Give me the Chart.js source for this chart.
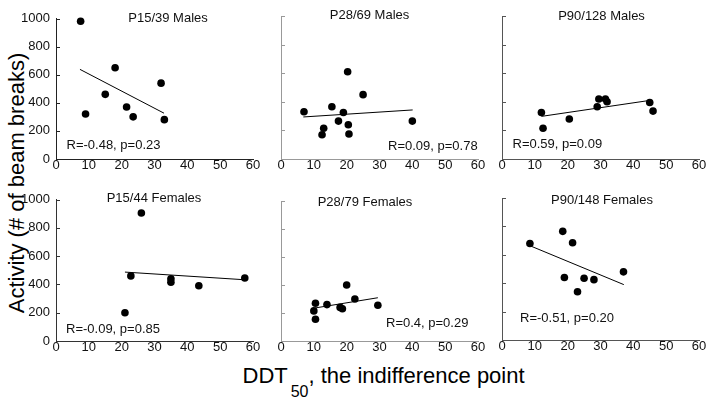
<!DOCTYPE html>
<html>
<head>
<meta charset="utf-8">
<script src="https://cdn.jsdelivr.net/npm/chart.js@4.4.1/dist/chart.umd.min.js"></script>
<style>
html,body{margin:0;padding:0;background:#fff;}
body{width:714px;height:401px;position:relative;overflow:hidden;font-family:'Liberation Sans',Arial,sans-serif;color:#000;}
canvas{position:absolute;}
#ytitle{position:absolute;left:17px;top:183px;font-size:22px;line-height:22px;white-space:nowrap;transform:translate(-50%,-50%) rotate(-90deg);}
#xtitle{position:absolute;left:242.5px;top:365.4px;font-size:22px;line-height:22px;white-space:nowrap;}
#xtitle .sub{font-size:16px;vertical-align:-14px;margin-left:3px;line-height:16px;}
</style>
</head>
<body>
<div id="ytitle">Activity (# of beam breaks)</div>
<div id="xtitle">DDT<span class="sub">50</span>, the indifference point</div>
<script>
// ---- tick values ----
const xTicks = [0, 10, 20, 30, 40, 50, 60];
const yTicks = [0, 200, 400, 600, 800, 1000];

// ---- panel labels ----
const panelTitles = ['P15/39 Males', 'P28/69 Males', 'P90/128 Males',
                     'P15/44 Females', 'P28/79 Females', 'P90/148 Females'];
const statLabels = ['R=-0.48, p=0.23', 'R=0.09, p=0.78', 'R=0.59, p=0.09',
                    'R=-0.09, p=0.85', 'R=0.4, p=0.29', 'R=-0.51, p=0.20'];

// ---- data (DDT50, activity) ----
const p15MalesX = [7.5, 9, 15, 18, 21.5, 23.5, 32, 33];
const p15MalesY = [980, 320, 460, 650, 370, 300, 540, 280];
const p15MalesFitX = [7.3, 32.9];
const p15MalesFitY = [638, 326];

const p28MalesX = [7, 12.5, 13, 15.5, 17.5, 19, 20.3, 20.5, 20.7, 25, 40];
const p28MalesY = [330, 170, 215, 365, 265, 325, 610, 240, 175, 450, 265];
const p28MalesFitX = [6.8, 40.1];
const p28MalesFitY = [294, 343];

const p90MalesX = [12, 12.5, 20.5, 29, 29.5, 31.5, 32, 45, 46];
const p90MalesY = [325, 215, 280, 365, 420, 420, 400, 395, 335];
const p90MalesFitX = [12, 45.1];
const p90MalesFitY = [298, 410];

const p15FemalesX = [21, 22.8, 26, 35, 35, 43.5, 57.5];
const p15FemalesY = [200, 460, 905, 440, 415, 390, 445];
const p15FemalesFitX = [21, 58];
const p15FemalesFitY = [487, 432];

const p28FemalesX = [10, 10.5, 10.5, 14, 18, 18.7, 20, 22.5, 29.5];
const p28FemalesY = [215, 270, 155, 260, 240, 230, 400, 300, 255];
const p28FemalesFitX = [10.4, 29.5];
const p28FemalesFitY = [236, 309];

const p90FemalesX = [8.5, 18.5, 19, 21.5, 23, 25, 28, 37];
const p90FemalesY = [680, 765, 440, 685, 340, 435, 425, 480];
const p90FemalesFitX = [8.4, 37.1];
const p90FemalesFitY = [665, 390];

const seriesX = [p15MalesX, p28MalesX, p90MalesX, p15FemalesX, p28FemalesX, p90FemalesX];
const seriesY = [p15MalesY, p28MalesY, p90MalesY, p15FemalesY, p28FemalesY, p90FemalesY];
const fitX = [p15MalesFitX, p28MalesFitX, p90MalesFitX, p15FemalesFitX, p28FemalesFitX, p90FemalesFitX];
const fitY = [p15MalesFitY, p28MalesFitY, p90MalesFitY, p15FemalesFitY, p28FemalesFitY, p90FemalesFitY];

// ---- layout (page pixels) ----
const layout = [
  {L: 56,  R: 253, T: 16,  B: 159, axis: '#222', showY: true,  title: [168, 18],  stat: [66.5, 145]},
  {L: 281, R: 478, T: 16,  B: 159, axis: '#999', showY: false, title: [369.5, 15.5], stat: [388, 146]},
  {L: 502, R: 699, T: 16,  B: 159, axis: '#555', showY: false, title: [601.5, 16], stat: [512.5, 144]},
  {L: 56,  R: 253, T: 197, B: 341, axis: '#333', showY: true,  title: [154, 198], stat: [66, 329.5]},
  {L: 281, R: 478, T: 201, B: 341, axis: '#999', showY: false, title: [365, 202], stat: [386, 323.5]},
  {L: 502, R: 699, T: 198, B: 340, axis: '#555', showY: false, title: [602, 200], stat: [520, 318.5]}
];

const YW = 44, XH = 18, PT = 10, PR = 14;
const FONT = "'Liberation Sans', Arial, sans-serif";

layout.forEach((cfg, i) => {
  const canvas = document.createElement('canvas');
  const left = cfg.L - YW, top = cfg.T - PT;
  const w = cfg.R - cfg.L + YW + PR;
  const h = cfg.B - cfg.T + PT + XH;
  canvas.width = w; canvas.height = h;
  canvas.style.left = left + 'px';
  canvas.style.top = top + 'px';
  canvas.style.width = w + 'px';
  canvas.style.height = h + 'px';
  document.body.appendChild(canvas);

  const pts = seriesX[i].map((x, k) => ({x: x, y: seriesY[i][k]}));
  const fit = fitX[i].map((x, k) => ({x: x, y: fitY[i][k]}));

  const decor = {
    id: 'decor' + i,
    afterDraw(chart) {
      const ctx = chart.ctx;
      const ys = chart.scales.y;
      const ca = chart.chartArea;
      ctx.save();
      // inward y tick marks
      ctx.strokeStyle = cfg.axis;
      ctx.lineWidth = 1;
      yTicks.forEach(v => {
        const py = Math.round(ys.getPixelForValue(v)) + 0.5;
        ctx.beginPath();
        ctx.moveTo(ca.left, py);
        ctx.lineTo(ca.left + 4, py);
        ctx.stroke();
      });
      ctx.fillStyle = '#111';
      ctx.font = '13px ' + FONT;
      ctx.textBaseline = 'middle';
      ctx.textAlign = 'center';
      ctx.fillText(panelTitles[i], cfg.title[0] - left, cfg.title[1] - top);
      ctx.textAlign = 'left';
      ctx.fillText(statLabels[i], cfg.stat[0] - left, cfg.stat[1] - top);
      ctx.restore();
    }
  };

  new Chart(canvas, {
    type: 'scatter',
    data: {
      datasets: [
        {type: 'scatter', data: pts, backgroundColor: '#000', borderColor: '#000',
         pointRadius: 3.8, pointHoverRadius: 3.8, borderWidth: 0, clip: false},
        {type: 'line', data: fit, borderColor: '#000', borderWidth: 1, pointRadius: 0,
         fill: false, tension: 0, clip: false}
      ]
    },
    options: {
      responsive: false,
      animation: false,
      events: [],
      devicePixelRatio: 1,
      layout: {padding: {left: 0, top: PT, right: PR, bottom: 0}},
      plugins: {legend: {display: false}, tooltip: {enabled: false}, title: {display: false}},
      scales: {
        x: {
          type: 'linear', min: 0, max: 60,
          afterBuildTicks: s => { s.ticks = xTicks.map(v => ({value: v})); },
          afterFit: s => { s.height = XH; },
          ticks: {autoSkip: false, maxRotation: 0, padding: 0, color: '#111',
                  font: {family: FONT, size: 13, lineHeight: 1},
                  callback: v => String(v)},
          grid: {display: false, drawTicks: false},
          border: {display: true, color: cfg.axis, width: 1}
        },
        y: {
          type: 'linear', min: 0, max: 1000,
          afterBuildTicks: s => { s.ticks = yTicks.map(v => ({value: v})); },
          afterFit: s => { s.width = YW; },
          ticks: {display: cfg.showY, autoSkip: false, padding: 6, color: '#111',
                  font: {family: FONT, size: 13, lineHeight: 1},
                  callback: v => String(v)},
          grid: {display: false, drawTicks: false},
          border: {display: true, color: cfg.axis, width: 1}
        }
      }
    },
    plugins: [decor]
  });
});
</script>
</body>
</html>
